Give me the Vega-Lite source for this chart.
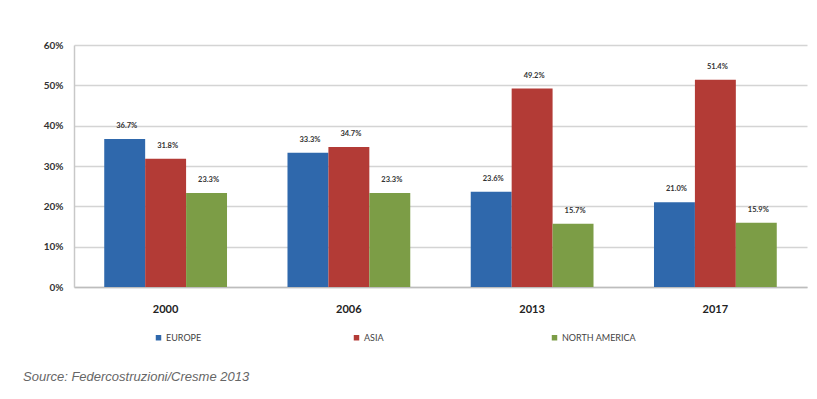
{
  "$schema": "https://vega.github.io/schema/vega-lite/v6.json",
  "width": 733,
  "height": 242,
  "autosize": {"type": "none"},
  "padding": {"left": 74, "top": 45, "right": 10, "bottom": 112},
  "background": "white",
  "title": {
    "text": "Source: Federcostruzioni/Cresme 2013",
    "orient": "bottom",
    "anchor": "start",
    "frame": "group",
    "dx": -51,
    "offset": 28,
    "font": "Liberation Sans",
    "fontSize": 13,
    "fontStyle": "italic",
    "fontWeight": "normal",
    "color": "#666666"
  },
  "data": {
    "values": [
      {"year": "2000", "region": "EUROPE", "share": 0.367, "label": "36.7%"},
      {"year": "2000", "region": "ASIA", "share": 0.318, "label": "31.8%"},
      {"year": "2000", "region": "NORTH AMERICA", "share": 0.233, "label": "23.3%"},
      {"year": "2006", "region": "EUROPE", "share": 0.333, "label": "33.3%"},
      {"year": "2006", "region": "ASIA", "share": 0.347, "label": "34.7%"},
      {"year": "2006", "region": "NORTH AMERICA", "share": 0.233, "label": "23.3%"},
      {"year": "2013", "region": "EUROPE", "share": 0.236, "label": "23.6%"},
      {"year": "2013", "region": "ASIA", "share": 0.492, "label": "49.2%"},
      {"year": "2013", "region": "NORTH AMERICA", "share": 0.157, "label": "15.7%"},
      {"year": "2017", "region": "EUROPE", "share": 0.210, "label": "21.0%"},
      {"year": "2017", "region": "ASIA", "share": 0.514, "label": "51.4%"},
      {"year": "2017", "region": "NORTH AMERICA", "share": 0.159, "label": "15.9%"}
    ]
  },
  "encoding": {
    "x": {
      "field": "year",
      "type": "nominal",
      "scale": {"paddingInner": 0.33, "paddingOuter": 0.165},
      "axis": {
        "title": null,
        "labelAngle": 0,
        "labelFont": "Lato",
        "labelFontWeight": "bold",
        "labelFontSize": 11,
        "labelColor": "#222222",
        "labelPadding": 16,
        "ticks": false,
        "domainColor": "#bdbdbd",
        "domainWidth": 1.5
      }
    },
    "xOffset": {
      "field": "region",
      "type": "nominal",
      "sort": ["EUROPE", "ASIA", "NORTH AMERICA"],
      "scale": {"paddingInner": 0, "paddingOuter": 0}
    },
    "y": {
      "field": "share",
      "type": "quantitative",
      "scale": {"domain": [0, 0.6], "nice": false},
      "axis": {
        "title": null,
        "format": ".0%",
        "values": [0, 0.1, 0.2, 0.3, 0.4, 0.5, 0.6],
        "labelFont": "Lato",
        "labelFontWeight": "bold",
        "labelFontSize": 10,
        "labelColor": "#333333",
        "labelPadding": 11,
        "ticks": false,
        "domainColor": "#c8c8c8",
        "domainWidth": 1.5,
        "gridColor": "#d4d4d4",
        "gridWidth": 1.5
      }
    }
  },
  "layer": [
    {
      "mark": {"type": "bar"},
      "encoding": {
        "color": {
          "field": "region",
          "type": "nominal",
          "sort": ["EUROPE", "ASIA", "NORTH AMERICA"],
          "scale": {
            "domain": ["EUROPE", "ASIA", "NORTH AMERICA"],
            "range": ["#2f68ac", "#b33b36", "#7c9d46"]
          },
          "legend": {
            "title": null,
            "orient": "none",
            "legendX": 80,
            "legendY": 288,
            "direction": "horizontal",
            "columns": 3,
            "gridAlign": "all",
            "columnPadding": 112,
            "symbolType": "square",
            "symbolSize": 30,
            "symbolStrokeWidth": 0,
            "labelFont": "Lato",
            "labelFontSize": 9,
            "labelColor": "#444444",
            "labelOffset": 3,
            "padding": 0
          }
        }
      }
    },
    {
      "mark": {
        "type": "text",
        "baseline": "bottom",
        "dy": -9,
        "dx": 2,
        "font": "Lato",
        "fontWeight": "bold",
        "fontSize": 7.5,
        "color": "#333333"
      },
      "encoding": {
        "text": {"field": "label", "type": "nominal"}
      }
    }
  ],
  "config": {
    "view": {"stroke": null}
  }
}
